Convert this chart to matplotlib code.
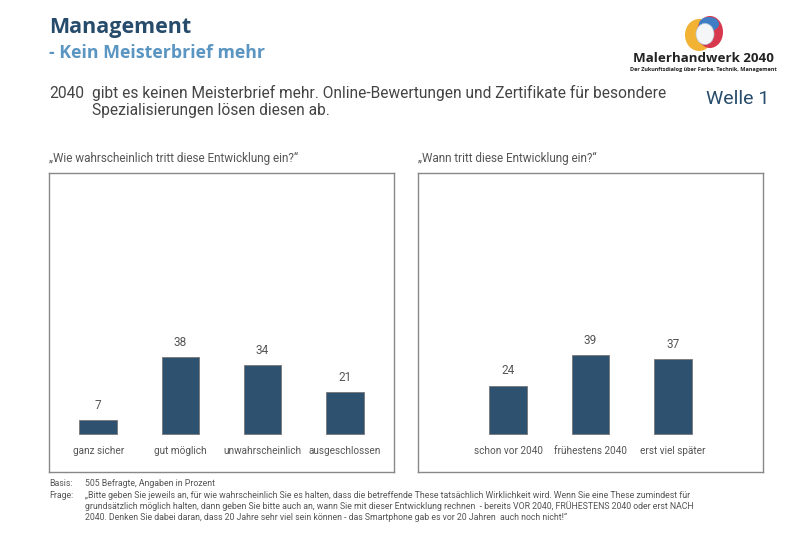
import matplotlib
matplotlib.use("Agg")
import matplotlib.pyplot as plt
from matplotlib.patches import Ellipse

plt.rcParams['font.family'] = ['Roboto', 'DejaVu Sans']

# Data
cats_left = ["ganz sicher", "gut möglich", "unwahrscheinlich", "ausgeschlossen"]
vals_left = [7, 38, 34, 21]
cats_right = ["schon vor 2040", "frühestens 2040", "erst viel später"]
vals_right = [24, 39, 37]

bar_color = "#2e5170"
gray = "#555555"
W, H = 800, 554

fig = plt.figure(figsize=(8, 5.54), dpi=100)

# overlay axes in pixel coordinates for text and logo
ov = fig.add_axes([0, 0, 1, 1])
ov.set_xlim(0, W)
ov.set_ylim(H, 0)
ov.axis("off")


def box_axes(x0, x1, y0, y1):
    return fig.add_axes([x0 / W, 1 - y1 / H, (x1 - x0) / W, (y1 - y0) / H])


def draw_bars(ax, cats, vals, xlim):
    x = range(len(cats))
    ax.bar(x, vals, width=0.46, color=bar_color, edgecolor="#777777", linewidth=0.6)
    for xi, v, c in zip(x, vals, cats):
        ax.text(xi, v + 4, str(v), ha="center", va="bottom", fontsize=8.5, color=gray)
        ax.text(xi, -8, c, ha="center", va="center", fontsize=7.2, color=gray)
    ax.set_xlim(*xlim)
    ax.set_ylim(-18.5, 128.5)
    ax.set_xticks([])
    ax.set_yticks([])
    for s in ax.spines.values():
        s.set_color("#888888")
        s.set_linewidth(1)


axl = box_axes(49, 394, 173, 472)
draw_bars(axl, cats_left, vals_left, (-0.6, 3.6))
axr = box_axes(418, 763, 173, 472)
draw_bars(axr, cats_right, vals_right, (-1.1, 3.1))

# headings
ov.text(49, 27, "Management", fontsize=15.5, fontweight="bold", color="#264b6b",
        va="center", family=["Open Sans", "DejaVu Sans"])
ov.text(49, 53, "- Kein Meisterbrief mehr", fontsize=12.8, fontweight="bold",
        color="#5b95c2", va="center", family=["Open Sans", "DejaVu Sans"])

ov.text(49, 93, "2040", fontsize=11.2, color="#444444", va="center")
ov.text(92, 93, "gibt es keinen Meisterbrief mehr. Online-Bewertungen und Zertifikate für besondere",
        fontsize=11.2, color="#444444", va="center")
ov.text(92, 110, "Spezialisierungen lösen diesen ab.", fontsize=11.2, color="#444444", va="center")
ov.text(738, 99, "Welle 1", fontsize=14, color="#264b6b", va="center", ha="center")

ov.text(49, 158, "\u201eWie wahrscheinlich tritt diese Entwicklung ein?\u201c", fontsize=8.5,
        color=gray, va="center")
ov.text(418, 158, "\u201eWann tritt diese Entwicklung ein?\u201c", fontsize=8.5,
        color=gray, va="center")

ov.text(221.5, 192, "Kein Meisterbrief mehr", fontsize=12, color="#444444",
        ha="center", va="center")
ov.text(590.5, 192, "Kein Meisterbrief mehr - Zeit", fontsize=12, color="#444444",
        ha="center", va="center")
ov.text(590.5, 212, "(Basis: Befragte, die die Entwicklung\nnicht für ausgeschlossen halten)",
        fontsize=7, color="#444444", ha="center", va="center", linespacing=1.0)

# footer
fs = 6.3
ov.text(49, 484, "Basis:", fontsize=fs, color=gray, va="center")
ov.text(85, 484, "505 Befragte, Angaben in Prozent", fontsize=fs, color=gray, va="center")
ov.text(49, 496, "Frage:", fontsize=fs, color=gray, va="center")
frage = ["\u201eBitte geben Sie jeweils an, für wie wahrscheinlich Sie es halten, dass die betreffende These tatsächlich Wirklichkeit wird. Wenn Sie eine These zumindest für",
         "grundsätzlich möglich halten, dann geben Sie bitte auch an, wann Sie mit dieser Entwicklung rechnen  - bereits VOR 2040, FRÜHESTENS 2040 oder erst NACH",
         "2040. Denken Sie dabei daran, dass 20 Jahre sehr viel sein können - das Smartphone gab es vor 20 Jahren  auch noch nicht!\u201c"]
for i, line in enumerate(frage):
    ov.text(85, 496 + i * 10.5, line, fontsize=fs, color=gray, va="center")

# logo
ov.add_patch(Ellipse((699, 35), 28, 32, facecolor="#f2b233", edgecolor="none"))
ov.add_patch(Ellipse((710, 32), 26, 32, facecolor="#d8384e", edgecolor="none"))
ov.add_patch(Ellipse((709, 24), 20, 14, facecolor="#3f7ec4", edgecolor="none"))
ov.add_patch(Ellipse((705, 34), 18, 21, facecolor="#f4f6f8", edgecolor="#b8c8d8", linewidth=0.5))
ov.text(703, 59, "Malerhandwerk 2040", fontsize=9.6, fontweight="bold", color="#222222",
        ha="center", va="center", family=["Open Sans", "DejaVu Sans"])
ov.text(703, 70, "Der Zukunftsdialog über Farbe, Technik, Management", fontsize=4.0,
        fontweight="bold", color="#222222", ha="center", va="center",
        family=["Open Sans", "DejaVu Sans"])

fig.savefig("out.png", dpi=100)
